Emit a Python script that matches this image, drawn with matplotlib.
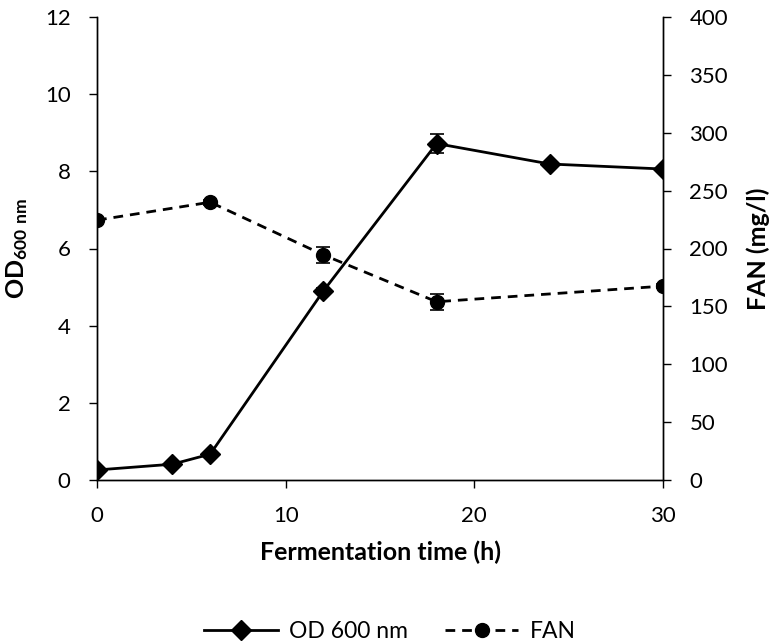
import matplotlib
matplotlib.use("Agg")
import matplotlib.pyplot as plt
from matplotlib.lines import Line2D

plt.rcParams['font.family'] = ['Lato', 'DejaVu Sans']
plt.rcParams['mathtext.default'] = 'regular'

time_od = [0, 4, 6, 12, 18, 24, 30]
od600 = [0.26, 0.41, 0.67, 4.9, 8.72, 8.19, 8.06]
od_err = [0.02, 0.02, 0.03, 0.08, 0.25, 0.05, 0.05]

time_fan = [0, 6, 12, 18, 30]
fan = [224.5, 240.0, 194.5, 154.0, 167.5]
fan_err = [2, 2, 7, 7, 2]

fig = plt.figure(figsize=(7.69, 6.43), dpi=100)
ax = fig.add_axes([97/769, 1-480/643, (663-97)/769, (480-17)/643])
ax2 = ax.twinx()

dash = (0, (3.5, 2.5))
ax.errorbar(time_od, od600, yerr=od_err, color='black', lw=2, marker='D',
            markersize=10, capsize=5, elinewidth=1.2, capthick=1.2)
ax2.errorbar(time_fan, fan, yerr=fan_err, color='black', lw=2, ls=dash, marker='o',
             markersize=10, capsize=5, elinewidth=1.2, capthick=1.2)

ax.set_xlim(0, 30)
ax.set_ylim(0, 12)
ax2.set_ylim(0, 400)
ax.set_xticks([0, 10, 20, 30])
ax.set_yticks(range(0, 13, 2))
ax2.set_yticks(range(0, 401, 50))

for a in (ax, ax2):
    a.spines['top'].set_visible(False)
    for s in a.spines.values():
        s.set_linewidth(1.0)
ax.tick_params(axis='both', labelsize=16, length=6, width=1, direction='out', pad=13)
ax2.tick_params(axis='y', labelsize=16, length=6, width=1, direction='out', pad=13)

ax.set_xlabel('Fermentation time (h)', fontsize=18, fontweight='bold')
ax.set_ylabel('OD$_{600\\ nm}$', fontsize=18, fontweight='bold')
ax2.set_ylabel('FAN (mg/l)', fontsize=18, fontweight='bold')
ax.xaxis.set_label_coords(0.5, -0.13)
ax.yaxis.set_label_coords(-0.118, 0.5)
ax2.yaxis.set_label_coords(1.148, 0.5)

h1 = Line2D([], [], color='black', lw=2, marker='D', markersize=10)
h2 = Line2D([], [], color='black', lw=2, ls=dash, marker='o', markersize=10)
fig.legend([h1, h2], ['OD 600 nm', 'FAN'], loc='center', bbox_to_anchor=(390/769, 1-632/643),
           ncol=2, frameon=False, fontsize=16.5, handlelength=3.2, handletextpad=0.5,
           columnspacing=1.6, borderaxespad=0)

fig.savefig('out.png', dpi=100)
